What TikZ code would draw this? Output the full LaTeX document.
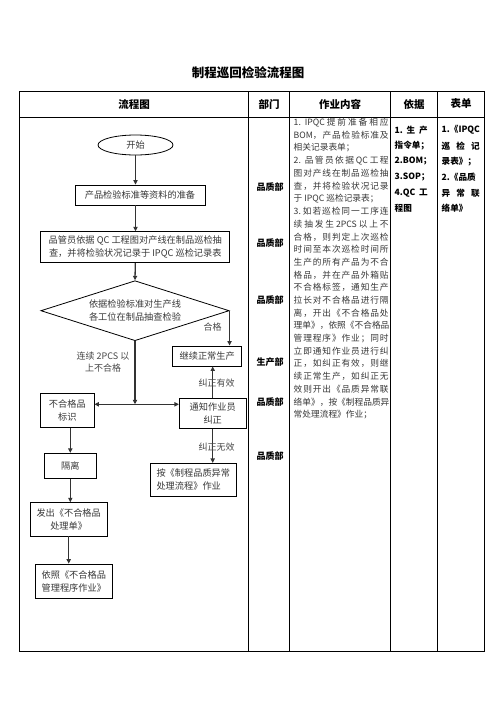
\documentclass[tikz,border=0pt]{standalone}
\usepackage{fontspec}
\setmainfont{Noto Sans CJK SC}
\usetikzlibrary{arrows.meta,shapes.geometric,calc}
\newXeTeXintercharclass\cjkclass
\count255="3000
\loop\XeTeXcharclass\count255=\cjkclass\ifnum\count255<"303F\advance\count255 by 1\repeat
\count255="4E00
\loop\XeTeXcharclass\count255=\cjkclass\ifnum\count255<"9FFF\advance\count255 by 1\repeat
\count255="FF01
\loop\XeTeXcharclass\count255=\cjkclass\ifnum\count255<"FF1F\advance\count255 by 1\repeat
\XeTeXinterchartoks\cjkclass\cjkclass={\hskip0pt plus 1fil\relax}
\XeTeXinterchartokenstate=0
\newcommand\jline[1]{\hbox to 95pt{\XeTeXinterchartokenstate=1 #1\XeTeXinterchartokenstate=0 }}
\begin{document}
\begin{tikzpicture}[x=1pt,y=-1pt,
  box/.style={draw=black,line width=0.8pt,rectangle,inner sep=0pt,align=center,
    font=\fontsize{9.2}{12.7}\selectfont,text=black!78},
  arr/.style={line width=1.3pt,draw=black!80,-{Triangle[length=4.5pt,width=4.2pt]}},
  lab/.style={font=\fontsize{9}{12.5}\selectfont,text=black!72,inner sep=0pt,align=center},
  grid/.style={line width=1pt,draw=black},
  hdr/.style={font=\bfseries\fontsize{10.5}{12}\selectfont,inner sep=0pt},
  dept/.style={font=\bfseries\fontsize{9}{12}\selectfont,inner sep=0pt},
  bcol/.style={font=\bfseries\fontsize{8.6}{12}\selectfont,inner sep=0pt,anchor=west},
  ctext/.style={font=\fontsize{8.7}{12}\selectfont,text=black!78,inner sep=0pt,anchor=west},
]
\useasboundingbox (0,0) rectangle (496,702);
\fill[white] (0,0) rectangle (496,702);

% title
\node[font=\bfseries\fontsize{12.5}{14}\selectfont,inner sep=0pt] (title) at (248,73) {制程巡回检验流程图};

% table
\draw[grid] (19.5,91) rectangle (484.5,651);
\draw[grid] (19.5,117) -- (484.5,117);
\foreach \x in {248.5,289.5,390.5,437.5} \draw[grid] (\x,91) -- (\x,651);

\node[hdr] (h1) at (134,104) {流程图};
\node[hdr] (h2) at (269,104) {部门};
\node[hdr] (h3) at (340,104) {作业内容};
\node[hdr] (h4) at (414,104) {依据};
\node[hdr] (h5) at (461,104) {表单};

% flowchart nodes
\node[box,ellipse,minimum width=75pt,minimum height=20pt] (start) at (135.5,145) {开始};
\node[box,minimum width=130pt,minimum height=20pt] (prep) at (140,195) {产品检验标准等资料的准备};
\node[box,minimum width=189pt,minimum height=31pt] (qc) at (135.3,247.2) {品管员依据 QC 工程图对产线在制品巡检抽\\查，并将检验状况记录于 IPQC 巡检记录表};
\node[box,diamond,aspect=3.14,minimum width=188.3pt,minimum height=60pt] (dia) at (135,310.7) {依据检验标准对生产线\\各工位在制品抽查检验};
\node[box,minimum width=69pt,minimum height=20pt] (cont) at (207.2,356) {继续正常生产};
\node[box,minimum width=53.3pt,minimum height=34pt] (nog) at (67.3,410.3) {不合格品\\标识};
\node[box,minimum width=66.7pt,minimum height=30pt] (notify) at (212.7,413.3) {通知作业员\\纠正};
\node[box,minimum width=86.7pt,minimum height=32.7pt,align=left] (handle) at (193.3,479.7) {按《制程品质异常\\处理流程》作业};
\node[box,minimum width=52.7pt,minimum height=25pt] (iso) at (70.3,465.8) {隔离};
\node[box,minimum width=77.3pt,minimum height=33.3pt] (issue) at (68.7,519.3) {发出《不合格品\\处理单》};
\node[box,minimum width=77.7pt,minimum height=34.3pt] (follow) at (73.8,581.2) {依照《不合格品\\管理程序作业》};
\coordinate (J) at (135,404.3);

% connectors
\draw[arr] (start.south) -- (start.south |- prep.north);
\draw[arr] (prep.south -| start.south) -- (start.south |- qc.north);
\draw[arr] (qc.south) -- (dia.north);
\draw[arr] (dia.east) -- (dia.east |- cont.north);
\draw[arr] (dia.south) -- (J);
\draw[arr] (J) -- (J -| nog.east);
\draw[arr] (J) -- (J -| notify.west);
\draw[arr] (notify.north) -- (notify.north |- cont.south);
\draw[arr] (notify.south) -- (notify.south |- handle.north);
\draw[arr] (iso.north |- nog.south) -- (iso.north);
\draw[arr] (iso.south) -- (iso.south |- issue.north);
\draw[arr] (issue.south) -- (issue.south |- follow.north);

% labels
\node[lab] (lok) at (212.7,327) {合格};
\node[lab] (lng) at (103,362) {连续 2PCS 以\\上不合格};
\node[lab] (lv) at (216.7,383.3) {纠正有效};
\node[lab] (lf) at (216.7,446.7) {纠正无效};

% departments
\node[dept] (d1) at (270,187) {品质部};
\node[dept] (d2) at (270,243) {品质部};
\node[dept] (d3) at (270,300) {品质部};
\node[dept] (d4) at (270,362) {生产部};
\node[dept] (d5) at (270,402) {品质部};
\node[dept] (d6) at (270,456) {品质部};

% content
\foreach \t [count=\i] in {
  {\jline{1.\ \ IPQC 提前准备相应}},
  {\jline{BOM，产品检验标准及}},
  {相关记录表单；},
  {\jline{2.\ \ 品管员依据 QC 工程}},
  {\jline{图对产线在制品巡检抽}},
  {\jline{查，并将检验状况记录}},
  {于 IPQC 巡检记录表；},
  {\jline{3.\ 如若巡检同一工序连}},
  {\jline{续抽发生 2PCS 以上不}},
  {\jline{合格，则判定上次巡检}},
  {\jline{时间至本次巡检时间所}},
  {\jline{生产的所有产品为不合}},
  {\jline{格品，并在产品外箱贴}},
  {\jline{不合格标签，通知生产}},
  {\jline{拉长对不合格品进行隔}},
  {\jline{离，开出《不合格品处}},
  {\jline{理单》，依照《不合格品}},
  {\jline{管理程序》作业；同时}},
  {\jline{立即通知作业员进行纠}},
  {\jline{正，如纠正有效，则继}},
  {\jline{续正常生产，如纠正无}},
  {\jline{效则开出《品质异常联}},
  {\jline{络单》，按《制程品质异}},
  {常处理流程》作业；}}
  \node[ctext] (c\i) at (293.5,{122.5+(\i-1)*12.7}) {\t};

% basis column
\foreach \t [count=\i] in {
  {\hbox to 33pt{1.\hfil 生\hfil 产}},
  {指令单；},
  {2.BOM；},
  {3.SOP；},
  {\hbox to 33pt{4.QC\hfil 工}},
  {程图}}
  \node[bcol] (b\i) at (394.5,{130+(\i-1)*15.7}) {\t};

% form column
\foreach \t [count=\i] in {
  {1.《IPQC},
  {\hbox to 38pt{巡\hfil 检\hfil 记}},
  {录表》；},
  {2.《品质},
  {\hbox to 38pt{异\hfil 常\hfil 联}},
  {络单》}}
  \node[bcol] (f\i) at (441.5,{130+(\i-1)*15.7}) {\t};
\end{tikzpicture}
\end{document}
